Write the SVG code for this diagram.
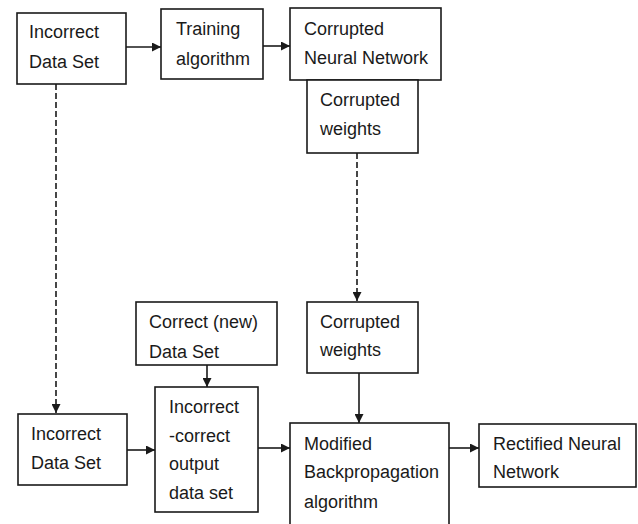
<svg xmlns="http://www.w3.org/2000/svg" width="638" height="524" viewBox="0 0 638 524">
<style>
.box{fill:#fff;stroke:#1a1a1a;stroke-width:1.6}
.t{font-family:"Liberation Sans",Arial,sans-serif;font-size:18px;fill:#1a1a1a}
.ln{stroke:#1a1a1a;stroke-width:1.6;fill:none}
.dash{stroke-dasharray:6 3}
</style>
<defs>
<marker id="ah" viewBox="0 0 10 10" refX="10" refY="5" markerWidth="9" markerHeight="9" markerUnits="userSpaceOnUse" orient="auto">
<path d="M0,0 L10,5 L0,10 Z" fill="#1a1a1a"/>
</marker>
</defs>
<rect width="638" height="524" fill="#fff"/>
<g id="connectors">
<line class="ln" x1="126" y1="47" x2="161" y2="47" marker-end="url(#ah)"/>
<line class="ln" x1="263" y1="46" x2="290" y2="46" marker-end="url(#ah)"/>
<line class="ln dash" x1="56" y1="84" x2="56" y2="413" marker-end="url(#ah)"/>
<line class="ln dash" x1="357" y1="153" x2="357" y2="301" marker-end="url(#ah)"/>
<line class="ln" x1="207" y1="365" x2="207" y2="387" marker-end="url(#ah)"/>
<line class="ln" x1="359" y1="373" x2="359" y2="423" marker-end="url(#ah)"/>
<line class="ln" x1="127" y1="450" x2="155" y2="450" marker-end="url(#ah)"/>
<line class="ln" x1="258" y1="448" x2="290" y2="448" marker-end="url(#ah)"/>
<line class="ln" x1="449" y1="448" x2="479" y2="448" marker-end="url(#ah)"/>
</g>
<g id="incorrect-top">
<rect class="box" x="17" y="13" width="109" height="71"/>
<text class="t" x="29" y="38">Incorrect</text>
<text class="t" x="29" y="68">Data Set</text>
</g>
<g id="training">
<rect class="box" x="161" y="9" width="102" height="70"/>
<text class="t" x="176" y="35">Training</text>
<text class="t" x="176" y="65">algorithm</text>
</g>
<g id="corrupted-nn">
<rect class="box" x="290" y="8" width="151" height="72"/>
<text class="t" x="304" y="35">Corrupted</text>
<text class="t" x="304" y="64">Neural Network</text>
</g>
<g id="corrupted-weights-top">
<rect class="box" x="307" y="80" width="111" height="73"/>
<text class="t" x="320" y="106">Corrupted</text>
<text class="t" x="320" y="135">weights</text>
</g>
<g id="correct-new">
<rect class="box" x="136" y="302" width="141" height="63"/>
<text class="t" x="149" y="328">Correct (new)</text>
<text class="t" x="149" y="358">Data Set</text>
</g>
<g id="corrupted-weights-bottom">
<rect class="box" x="307" y="302" width="111" height="71"/>
<text class="t" x="320" y="328">Corrupted</text>
<text class="t" x="320" y="356">weights</text>
</g>
<g id="incorrect-bottom">
<rect class="box" x="18" y="414" width="109" height="71"/>
<text class="t" x="31" y="440">Incorrect</text>
<text class="t" x="31" y="469">Data Set</text>
</g>
<g id="incorrect-correct">
<rect class="box" x="155" y="387" width="103" height="125"/>
<text class="t" x="169" y="413">Incorrect</text>
<text class="t" x="169" y="442">-correct</text>
<text class="t" x="169" y="470">output</text>
<text class="t" x="169" y="499">data set</text>
</g>
<g id="modified-bp">
<rect class="box" x="290" y="423" width="159" height="110"/>
<text class="t" x="304" y="450">Modified</text>
<text class="t" x="304" y="478">Backpropagation</text>
<text class="t" x="304" y="508">algorithm</text>
</g>
<g id="rectified">
<rect class="box" x="479" y="424" width="157" height="63"/>
<text class="t" x="493" y="450">Rectified Neural</text>
<text class="t" x="493" y="478">Network</text>
</g>
</svg>
